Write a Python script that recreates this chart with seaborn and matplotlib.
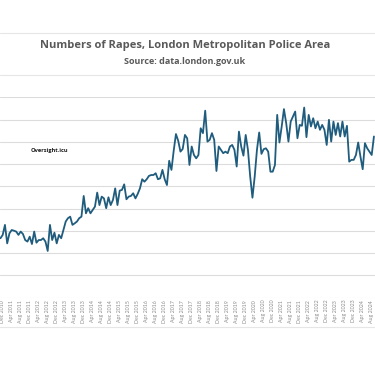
import numpy as np
import pandas as pd
import matplotlib.pyplot as plt
import seaborn as sns
from matplotlib.lines import Line2D

months = pd.date_range('2010-11-01', '2024-09-01', freq='MS')
rapes = [
    267, 282, 327, 244, 289, 304, 301, 297, 282, 297, 286, 259,
    252, 274, 241, 297, 247, 259, 259, 267, 252, 210, 327, 259,
    292, 244, 282, 267, 304, 342, 357, 364, 327, 334, 342, 357,
    364, 457, 379, 402, 379, 394, 409, 472, 416, 454, 446, 402,
    451, 416, 439, 491, 416, 481, 484, 509, 442, 454, 457, 469,
    446, 466, 491, 532, 521, 532, 547, 551, 551, 559, 532, 536,
    574, 532, 506, 615, 574, 660, 735, 705, 656, 668, 731, 716,
    596, 679, 641, 626, 641, 761, 739, 840, 701, 709, 739, 709,
    569, 679, 664, 649, 656, 649, 679, 686, 664, 589, 746, 679,
    638, 731, 664, 544, 449, 544, 664, 742, 646, 667, 671, 656,
    566, 566, 596, 821, 697, 769, 847, 784, 701, 791, 813, 836,
    716, 776, 772, 854, 721, 821, 769, 806, 761, 791, 754, 776,
    754, 686, 799, 701, 791, 731, 784, 724, 791, 724, 772, 611,
    619, 619, 641, 697, 634, 577, 694, 671, 656, 641, 724,
]

title = 'Numbers of Rapes, London Metropolitan Police Area'
subtitle = 'Source: data.london.gov.uk'
watermark = 'Oversight.icu'

df = pd.DataFrame({'idx': np.arange(len(months)), 'month': months, 'rapes': rapes})

sns.set_theme(style='white')
plt.rcParams['font.family'] = ['Open Sans', 'DejaVu Sans']

W, H = 375, 366
fig = plt.figure(figsize=(W / 100, H / 100), dpi=100)

# plot area (the original is cropped, so the y labels fall outside the figure)
ax_bottom, ax_top = 297.7, 97.3
ax = fig.add_axes([0, 1 - ax_bottom / H, 1, (ax_bottom - ax_top) / H])
sns.lineplot(data=df, x='idx', y='rapes', ax=ax, color='#1f5c7d', linewidth=1.3)

ax.set_xlim(-0.2, 166.47)
ax.set_ylim(0, 900)
ax.set_yticks(range(0, 901, 100))
ax.yaxis.grid(True, color='#dcdcdc', linewidth=0.8)
ax.tick_params(axis='y', labelleft=False, length=0)

ticks = df[df['month'].dt.month.isin([4, 8, 12])]
ax.set_xticks(ticks['idx'])
ax.set_xticklabels([f'{d:%b %Y}' for d in ticks['month']], rotation=90,
                   fontsize=3.8, color='#8c8c8c', family=['Lato', 'DejaVu Sans'])
ax.tick_params(axis='x', length=0, pad=1.5)
for s in ax.spines.values():
    s.set_visible(False)
ax.set_xlabel('')
ax.set_ylabel('')

t1 = fig.text(185 / W, 1 - 45.5 / H, title, ha='center', va='center',
              fontsize=7.5, fontweight='bold', color='#595959')
t2 = fig.text(185 / W, 1 - 61.5 / H, subtitle, ha='center', va='center',
              fontsize=6, fontweight='bold', color='#595959')
t3 = fig.text(30.5 / W, 1 - 150.3 / H, watermark, ha='left', va='center',
              fontsize=4.8, fontweight='bold', color='#1a1a1a')

# size the headings to the widths they take in the original
r = fig.canvas.get_renderer()
for t, target in [(t1, 289), (t2, 122), (t3, 37)]:
    w = t.get_window_extent(r).width
    t.set_fontsize(t.get_fontsize() * target / w)

# faint frame lines of the chart box
for yy in [33, 75, 327]:
    fig.add_artist(Line2D([0, 1], [1 - yy / H] * 2, color='#e6e6e6', linewidth=0.8))

fig.savefig('out.png', dpi=100)
